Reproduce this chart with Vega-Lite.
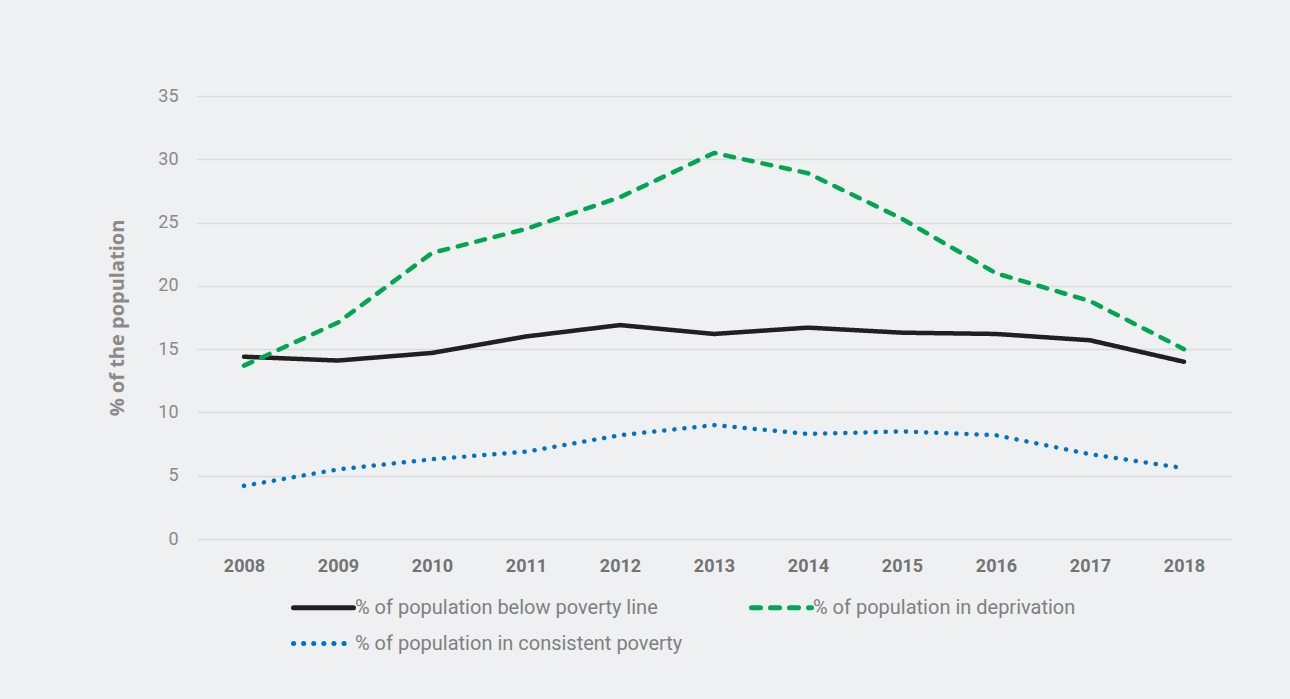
{
  "$schema": "https://vega.github.io/schema/vega-lite/v6.json",
  "autosize": "none",
  "width": 1034,
  "height": 443,
  "padding": {"left": 197, "top": 96, "right": 59, "bottom": 160},
  "background": "#eff0f2",
  "config": {"view": {"stroke": null}},
  "data": {
    "values": [
      {"year": "2008", "series": "% of population below poverty line", "value": 14.4},
      {"year": "2009", "series": "% of population below poverty line", "value": 14.1},
      {"year": "2010", "series": "% of population below poverty line", "value": 14.7},
      {"year": "2011", "series": "% of population below poverty line", "value": 16.0},
      {"year": "2012", "series": "% of population below poverty line", "value": 16.9},
      {"year": "2013", "series": "% of population below poverty line", "value": 16.2},
      {"year": "2014", "series": "% of population below poverty line", "value": 16.7},
      {"year": "2015", "series": "% of population below poverty line", "value": 16.3},
      {"year": "2016", "series": "% of population below poverty line", "value": 16.2},
      {"year": "2017", "series": "% of population below poverty line", "value": 15.7},
      {"year": "2018", "series": "% of population below poverty line", "value": 14.0},
      {"year": "2008", "series": "% of population in deprivation", "value": 13.7},
      {"year": "2009", "series": "% of population in deprivation", "value": 17.1},
      {"year": "2010", "series": "% of population in deprivation", "value": 22.6},
      {"year": "2011", "series": "% of population in deprivation", "value": 24.5},
      {"year": "2012", "series": "% of population in deprivation", "value": 27.0},
      {"year": "2013", "series": "% of population in deprivation", "value": 30.5},
      {"year": "2014", "series": "% of population in deprivation", "value": 28.9},
      {"year": "2015", "series": "% of population in deprivation", "value": 25.3},
      {"year": "2016", "series": "% of population in deprivation", "value": 21.0},
      {"year": "2017", "series": "% of population in deprivation", "value": 18.8},
      {"year": "2018", "series": "% of population in deprivation", "value": 15.0},
      {"year": "2008", "series": "% of population in consistent poverty", "value": 4.2},
      {"year": "2009", "series": "% of population in consistent poverty", "value": 5.5},
      {"year": "2010", "series": "% of population in consistent poverty", "value": 6.3},
      {"year": "2011", "series": "% of population in consistent poverty", "value": 6.9},
      {"year": "2012", "series": "% of population in consistent poverty", "value": 8.2},
      {"year": "2013", "series": "% of population in consistent poverty", "value": 9.0},
      {"year": "2014", "series": "% of population in consistent poverty", "value": 8.3},
      {"year": "2015", "series": "% of population in consistent poverty", "value": 8.5},
      {"year": "2016", "series": "% of population in consistent poverty", "value": 8.2},
      {"year": "2017", "series": "% of population in consistent poverty", "value": 6.7},
      {"year": "2018", "series": "% of population in consistent poverty", "value": 5.6}
    ]
  },
  "mark": {"type": "line", "strokeWidth": 4.5, "strokeCap": "round", "strokeJoin": "round"},
  "encoding": {
    "x": {
      "field": "year", "type": "ordinal",
      "scale": {"type": "point", "padding": 0.5},
      "axis": {
        "title": null, "labelAngle": 0, "domain": false, "ticks": false, "grid": false,
        "labelFont": "Roboto", "labelFontWeight": "bold", "labelFontSize": 18,
        "labelColor": "#737373", "labelPadding": 18
      }
    },
    "y": {
      "field": "value", "type": "quantitative",
      "scale": {"domain": [0, 35], "nice": false},
      "axis": {
        "title": "% of the population", "values": [0, 5, 10, 15, 20, 25, 30, 35],
        "domain": false, "ticks": false, "grid": true, "gridColor": "#d9dadc", "gridWidth": 1.5,
        "labelFont": "Roboto", "labelFontSize": 18, "labelColor": "#8a8a8a", "labelPadding": 19,
        "titleFont": "Open Sans", "titleFontWeight": "bold", "titleFontSize": 20, "titleColor": "#8a8a8a",
        "titlePadding": 30
      }
    },
    "color": {
      "field": "series", "type": "nominal",
      "sort": ["% of population below poverty line", "% of population in deprivation", "% of population in consistent poverty"],
      "scale": {
        "domain": ["% of population below poverty line", "% of population in deprivation", "% of population in consistent poverty"],
        "range": ["#231f20", "#00a651", "#0072c6"]
      },
      "legend": {
        "title": null, "orient": "none", "legendX": 114, "legendY": 499, "columns": 2, "direction": "horizontal",
        "symbolType": "M-3,0H3", "symbolSize": 400, "symbolStrokeWidth": 5,
        "labelFont": "Roboto", "labelFontSize": 20, "labelColor": "#808080",
        "labelLimit": 500, "columnPadding": 58, "rowPadding": 13, "labelOffset": 19,
        "encode": {"symbols": {"update": {"strokeCap": {"value": "round"}}}}
      }
    },
    "strokeDash": {
      "field": "series", "type": "nominal",
      "sort": ["% of population below poverty line", "% of population in deprivation", "% of population in consistent poverty"],
      "scale": {
        "domain": ["% of population below poverty line", "% of population in deprivation", "% of population in consistent poverty"],
        "range": [[1, 0], [9, 10], [0.1, 10]]
      },
      "legend": null
    }
  }
}
